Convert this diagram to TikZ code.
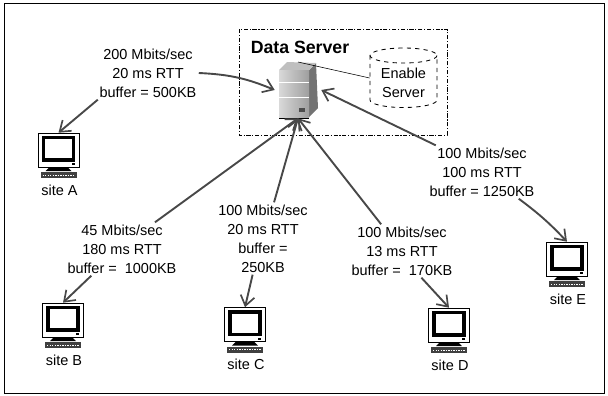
\documentclass[tikz,border=0pt]{standalone}
\usepackage{fontspec}
\setmainfont{Liberation Sans}
\usetikzlibrary{arrows.meta}
\definecolor{linkgray}{HTML}{484848}
\tikzset{
  link/.style={draw=linkgray,line width=1.35pt,-{Straight Barb[length=7pt,width=10pt,line width=1.2pt]}},
  rate/.style={align=center,font=\fontsize{10.3}{13.5}\selectfont,inner sep=1.5pt},
  sitename/.style={font=\fontsize{10.3}{12}\selectfont,inner sep=0pt},
  monitor/.style={inner sep=0pt,minimum width=29.2pt,minimum height=24.2pt}
}
\begin{document}
\begin{tikzpicture}[x=0.025cm,y=-0.025cm]
    \useasboundingbox (0,0) rectangle (608,396);
    \draw[line width=0.6pt] (4,3) rectangle (604,393);
    \draw[line width=0.5pt,dash pattern=on 3pt off 1.2pt on 0.8pt off 1.2pt] (239,29) rectangle (447,135);
    \node[font=\fontsize{12.6}{14}\selectfont\bfseries,inner sep=0pt] (title) at (300,47) {Data Server};

    % enable server
    \node[minimum width=47.7pt,minimum height=42.7pt,inner sep=0pt] (store) at (403.5,78) {};
    \draw[dashed,line width=0.6pt] (403.5,55.5) circle[x radius=33.5,y radius=7.5];
    \draw[dashed,line width=0.6pt] (370,55.5) -- (370,100) arc[x radius=33.5,y radius=7.5,start angle=180,end angle=0] -- (437,55.5);
    \node[align=center,font=\fontsize{10.3}{13.5}\selectfont,inner sep=0pt] (storetext) at (403.5,83) {Enable\\Server};

    % server
    \node[minimum width=32.7pt,minimum height=39.8pt,inner sep=0pt] (server) at (298,90) {};
    \fill[black] (279,116) rectangle (309,119);
    \fill[black!55] (309,70) -- (316,63) -- (318,108) -- (309,117) -- cycle;
    \fill[black!25] (279,70) -- (287,62) -- (316,63) -- (309,70) -- cycle;
    \shade[left color=black!15,right color=black!38] (279,70) rectangle (309,117);
    \draw[white,line width=0.7pt] (279,82) -- (309,82) (279,97) -- (309,97);
    \fill[black!70] (299,108) rectangle (305,112);
    \draw[line width=0.4pt] (298,62) -- (store.west);

    % sites
    \foreach \name/\x/\y/\txt in {siteA/58.5/150/site A,siteB/63/320/site B,siteC/245/324.5/site C,siteD/449/325/site D,siteE/567/259/site E}{
      \node[monitor] (\name) at (\x,\y) {};
      \begin{scope}[shift={(\x,\y)}]
        \fill[black] (-9,17) -- (9,17) -- (13,21) -- (-13,21) -- cycle;
        \draw[line width=0.6pt,fill=white] (-20.5,-17) rectangle (20.5,17);
        \draw[line width=2.2pt,fill=white] (-15,-12.5) rectangle (15,10);
        \fill[black] (13,13) rectangle (16,15);
        \fill[black!75] (-18,22) rectangle (18,28);
        \draw[white,line width=0.7pt,dash pattern=on 1pt off 0.8pt] (-16,25) -- (16,25);
      \end{scope}
      \node[sitename] (\name text) at (\x+1,\y+40) {\txt};
    }

    % link rates
    \node[rate] (rateA) at (148,73) {200 Mbits/sec\\20 ms RTT\\buffer = 500KB};
    \node[rate] (rateB) at (122,249) {45 Mbits/sec\\180 ms RTT\\buffer =\ \ 1000KB};
    \node[rate] (rateC) at (263,238.5) {100 Mbits/sec\\20 ms RTT\\buffer =\\250KB};
    \node[rate] (rateD) at (402,251) {100 Mbits/sec\\13 ms RTT\\buffer =\ \ 170KB};
    \node[rate] (rateE) at (482,172) {100 Mbits/sec\\100 ms RTT\\buffer = 1250KB};

    \draw[link] (rateA.east) to[bend left=10] (server.west);
    \draw[link] (rateA.208) -- (siteA.north);
    \draw[link] (rateB.39) -- (server.south);
    \draw[link] (rateB.221) -- (siteB.north);
    \draw[link] (rateC.73) -- (server.south);
    \draw[link] (rateC.254) -- (siteC.north);
    \draw[link] (rateD.128) -- (server.south);
    \draw[link] (rateD.306) -- (siteD.north);
    \draw[link] (rateE.150) -- (server.east);
    \draw[link] (rateE.324) to[bend left=5] (siteE.north);
\end{tikzpicture}
\end{document}
